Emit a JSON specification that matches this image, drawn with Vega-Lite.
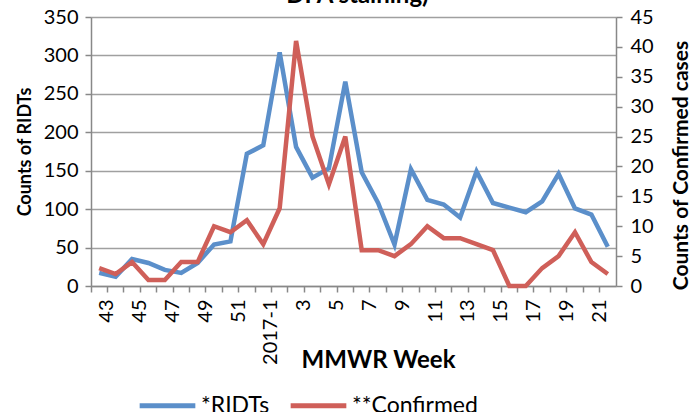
{
  "$schema": "https://vega.github.io/schema/vega-lite/v6.json",
  "autosize": "none",
  "width": 525,
  "height": 269,
  "padding": {"left": 91, "top": 17, "right": 73, "bottom": 126},
  "background": "white",
  "config": {
    "font": "Lato",
    "view": {"stroke": null},
    "axis": {"labelFont": "Lato", "titleFont": "Lato", "labelColor": "#000000", "titleColor": "#000000"}
  },
  "title": {
    "text": "DFA staining)",
    "fontSize": 24,
    "fontWeight": "bold",
    "font": "Lato",
    "color": "#000000",
    "anchor": "middle",
    "dx": 4,
    "dy": 30,
    "baseline": "alphabetic",
    "offset": 10
  },
  "data": {
    "values": [
      {"week": "43", "ridt": 17, "confirmed": 3},
      {"week": "44", "ridt": 12, "confirmed": 2},
      {"week": "45", "ridt": 35, "confirmed": 4},
      {"week": "46", "ridt": 30, "confirmed": 1},
      {"week": "47", "ridt": 21, "confirmed": 1},
      {"week": "48", "ridt": 17, "confirmed": 4},
      {"week": "49", "ridt": 30, "confirmed": 4},
      {"week": "50", "ridt": 54, "confirmed": 10},
      {"week": "51", "ridt": 58, "confirmed": 9},
      {"week": "52", "ridt": 172, "confirmed": 11},
      {"week": "2017-1", "ridt": 183, "confirmed": 7},
      {"week": "2", "ridt": 304, "confirmed": 13},
      {"week": "3", "ridt": 181, "confirmed": 41},
      {"week": "4", "ridt": 141, "confirmed": 25},
      {"week": "5", "ridt": 153, "confirmed": 17},
      {"week": "6", "ridt": 266, "confirmed": 25},
      {"week": "7", "ridt": 148, "confirmed": 6},
      {"week": "8", "ridt": 108, "confirmed": 6},
      {"week": "9", "ridt": 54, "confirmed": 5},
      {"week": "10", "ridt": 152, "confirmed": 7},
      {"week": "11", "ridt": 112, "confirmed": 10},
      {"week": "12", "ridt": 106, "confirmed": 8},
      {"week": "13", "ridt": 89, "confirmed": 8},
      {"week": "14", "ridt": 149, "confirmed": 7},
      {"week": "15", "ridt": 108, "confirmed": 6},
      {"week": "16", "ridt": 102, "confirmed": 0},
      {"week": "17", "ridt": 96, "confirmed": 0},
      {"week": "18", "ridt": 110, "confirmed": 3},
      {"week": "19", "ridt": 146, "confirmed": 5},
      {"week": "20", "ridt": 101, "confirmed": 9},
      {"week": "21", "ridt": 93, "confirmed": 4},
      {"week": "22", "ridt": 51, "confirmed": 2}
    ]
  },
  "encoding": {
    "x": {
      "field": "week",
      "type": "ordinal",
      "sort": null,
      "scale": {"type": "band", "paddingInner": 0, "paddingOuter": 0},
      "axis": {
        "title": "MMWR Week",
        "titleFontSize": 24,
        "titleFontWeight": "bold",
        "titleX": 287,
        "titleY": 81,
        "titleBaseline": "alphabetic",
        "bandPosition": 0,
        "labelOffset": 8.2,
        "labelAngle": 270,
        "labelAlign": "right",
        "labelBaseline": "middle",
        "labelFontSize": 20,
        "labelPadding": 7,
        "labelExpr": "indexof(['43','45','47','49','51','2017-1','3','5','7','9','11','13','15','17','19','21'], datum.value) >= 0 ? datum.value : ''",
        "domainColor": "#888888",
        "domainWidth": 1.5,
        "tickColor": "#888888",
        "tickSize": 6,
        "tickWidth": 1.5,
        "grid": false,
        "labelOverlap": false
      }
    }
  },
  "layer": [
    {
      "mark": {"type": "line", "strokeWidth": 4.5, "strokeJoin": "miter"},
      "encoding": {
        "y": {
          "field": "ridt",
          "type": "quantitative",
          "scale": {"domain": [0, 350], "nice": false},
          "axis": {
            "title": "Counts of RIDTs",
            "titleFontSize": 18,
            "titleFontWeight": "bold",
            "titlePadding": 9,
            "values": [0, 50, 100, 150, 200, 250, 300, 350],
            "labelFontSize": 20,
            "labelPadding": 7,
            "tickSize": 6,
            "tickWidth": 1.5,
            "tickColor": "#888888",
            "domainColor": "#888888",
            "domainWidth": 1.5,
            "grid": true,
            "gridColor": "#a0a0a0",
            "gridWidth": 1.5
          }
        },
        "color": {
          "datum": "*RIDTs",
          "type": "nominal",
          "scale": {"domain": ["*RIDTs", "**Confirmed"], "range": ["#5b8fca", "#cf5f59"]},
          "legend": {
            "title": null,
            "orient": "none",
            "direction": "horizontal",
            "legendX": 46,
            "legendY": 358,
            "symbolType": "stroke",
            "symbolSize": 3100,
            "symbolStrokeWidth": 5,
            "labelFontSize": 23,
            "labelFont": "Lato",
            "labelColor": "#000000",
            "columnPadding": 10,
            "labelOffset": 3
          }
        }
      }
    },
    {
      "mark": {"type": "line", "strokeWidth": 4.5, "strokeJoin": "miter"},
      "encoding": {
        "y": {
          "field": "confirmed",
          "type": "quantitative",
          "scale": {"domain": [0, 45], "nice": false},
          "axis": {
            "orient": "right",
            "title": "Counts of Confirmed cases",
            "titleFontSize": 21,
            "titleFontWeight": "bold",
            "titleAngle": 270,
            "titleX": 65,
            "titleY": 148,
            "titleAlign": "center",
            "titleBaseline": "middle",
            "values": [0, 5, 10, 15, 20, 25, 30, 35, 40, 45],
            "labelFontSize": 20,
            "labelPadding": 8,
            "tickSize": 6,
            "tickWidth": 1.5,
            "tickColor": "#888888",
            "domainColor": "#888888",
            "domainWidth": 1.5,
            "grid": false
          }
        },
        "color": {"datum": "**Confirmed", "type": "nominal"}
      }
    }
  ],
  "resolve": {"scale": {"y": "independent"}}
}
